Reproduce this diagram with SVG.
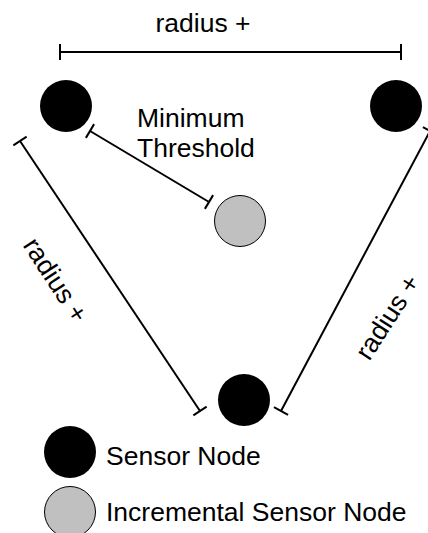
<svg xmlns="http://www.w3.org/2000/svg" width="428" height="533" viewBox="0 0 428 533">
<style>
.lbl{font-family:"Liberation Sans",Arial,sans-serif;font-size:26.5px;fill:#000}
.conn{stroke:#000;stroke-width:2;fill:none}
.sensor{fill:#000}
.inc{fill:#c0c0c0;stroke:#000;stroke-width:1}
</style>
<defs>
<marker id="tee" markerUnits="userSpaceOnUse" markerWidth="4" markerHeight="18" viewBox="-2 -9 4 18" refX="0" refY="0" orient="auto">
<path d="M0,-8 L0,8" stroke="#000" stroke-width="2"/>
</marker>
</defs>
<rect width="428" height="533" fill="#fff"/>
<g id="connectors">
<line class="conn" x1="60" y1="52" x2="401" y2="52" marker-start="url(#tee)" marker-end="url(#tee)"/>
<line class="conn" x1="90" y1="131" x2="209" y2="202" marker-start="url(#tee)" marker-end="url(#tee)"/>
<line class="conn" x1="20" y1="141" x2="200" y2="411" marker-start="url(#tee)" marker-end="url(#tee)"/>
<line class="conn" x1="430" y1="131" x2="281" y2="411" marker-start="url(#tee)" marker-end="url(#tee)"/>
</g>
<g id="labels">
<text class="lbl" x="203" y="32" text-anchor="middle">radius +</text>
<text class="lbl" x="137" y="127">Minimum</text>
<text class="lbl" x="137" y="157">Threshold</text>
<text class="lbl" text-anchor="middle" transform="translate(48,285) rotate(57)">radius +</text>
<text class="lbl" text-anchor="middle" transform="translate(395,322) rotate(-57)">radius +</text>
</g>
<g id="node-top-left"><circle class="sensor" cx="66" cy="106" r="26"/></g>
<g id="node-top-right"><circle class="sensor" cx="396" cy="106" r="26"/></g>
<g id="node-bottom"><circle class="sensor" cx="244" cy="400" r="26"/></g>
<g id="node-incremental"><circle class="inc" cx="240" cy="221" r="25.5"/></g>
<g id="legend-sensor">
<circle class="sensor" cx="70" cy="452" r="26"/>
<text class="lbl" x="106" y="465">Sensor Node</text>
</g>
<g id="legend-incremental">
<circle class="inc" cx="70" cy="512" r="25.5"/>
<text class="lbl" x="106" y="521">Incremental Sensor Node</text>
</g>
</svg>
